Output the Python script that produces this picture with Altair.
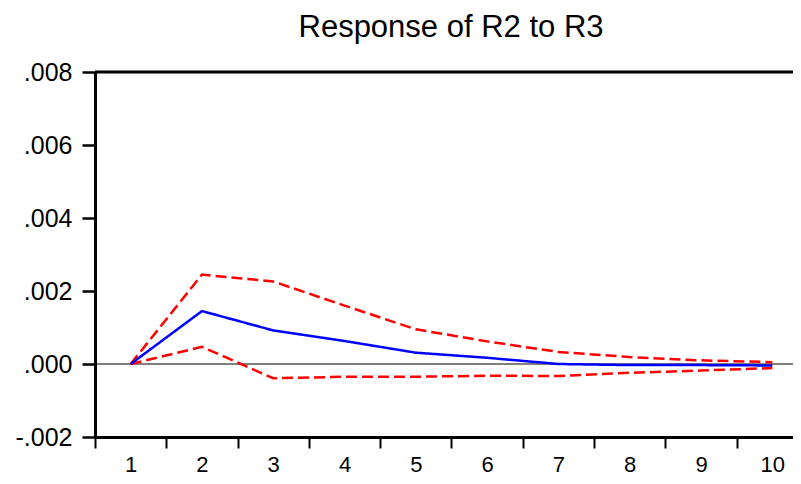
import altair as alt
import pandas as pd

periods = [1, 2, 3, 4, 5, 6, 7, 8, 9, 10]
response = [0.0, 0.00145, 0.00092, 0.00063, 0.00031, 0.00017, 0.0, -0.00003, -0.00003, -0.00004]
upper = [0.0, 0.00245, 0.00226, 0.00160, 0.00095, 0.00062, 0.00033, 0.00019, 0.00010, 0.00005]
lower = [0.0, 0.00047, -0.00039, -0.00035, -0.00035, -0.00032, -0.00033, -0.00024, -0.00018, -0.00011]
y_ticks = [-0.002, 0.0, 0.002, 0.004, 0.006, 0.008]
x_axis_values = [0.5, 1, 1.5, 2, 2.5, 3, 3.5, 4, 4.5, 5, 5.5, 6, 6.5, 7, 7.5, 8, 8.5, 9, 9.5, 10]
title_text = "Response of R2 to R3"

rows = []
for name, vals in [("upper", upper), ("lower", lower), ("response", response)]:
    for p, v in zip(periods, vals):
        rows.append({"period": p, "value": v, "series": name})
df = pd.DataFrame(rows)

FONT = "Liberation Sans"

x_enc = alt.X(
    "period:Q",
    scale=alt.Scale(domain=[0.5, 10.29], nice=False, zero=False),
    axis=alt.Axis(
        title=None, values=x_axis_values, labelAngle=0, tickSize=11, tickWidth=2,
        tickColor="black", domainColor="black", domainWidth=3,
        tickOpacity={"condition": {"test": "datum.value % 1 === 0", "value": 0}, "value": 1},
        labelExpr="datum.value % 1 === 0 ? format(datum.value, 'd') : ''",
        labelFlush=False, labelOverlap=False, labelBound=False,
        labelFontSize=22, labelFont=FONT, labelColor="black", labelPadding=6,
        grid=False,
    ),
)
y_scale = alt.Scale(domain=[-0.002, 0.008], nice=False, zero=False)
y_axis = alt.Axis(
    title=None, values=y_ticks, tickSize=13, tickWidth=2.5, tickColor="black",
    domainColor="black", domainWidth=3, labelFontSize=25, labelFont=FONT,
    labelColor="black", labelPadding=10, grid=False,
    labelExpr="(datum.value < 0 ? '-' : '') + replace(format(abs(datum.value), '.3f'), '0.', '.')",
)

zero = alt.Chart(pd.DataFrame({"v": [0.0]})).mark_rule(color="black", strokeWidth=1).encode(
    y=alt.Y("v:Q", scale=y_scale, axis=y_axis)
)
top = alt.Chart(pd.DataFrame({"v": [0.008]})).mark_rule(color="black", strokeWidth=3).encode(
    y=alt.Y("v:Q", scale=y_scale, axis=y_axis)
)

lines = alt.Chart(df).mark_line(strokeWidth=2.5).encode(
    x=x_enc,
    y=alt.Y("value:Q", scale=y_scale, axis=y_axis),
    color=alt.Color("series:N", scale=alt.Scale(domain=["response", "upper", "lower"],
                                               range=["#0000FF", "#FF0000", "#FF0000"]), legend=None),
    strokeDash=alt.StrokeDash("series:N", scale=alt.Scale(domain=["response", "upper", "lower"],
                                                         range=[[1, 0], [11, 5], [11, 5]]), legend=None),
    detail="series:N",
)

chart = alt.layer(zero, top, lines).properties(
    width=698,
    height=365,
    title=alt.TitleParams(title_text, fontSize=31, font=FONT, fontWeight="normal", color="black",
                          anchor="middle", offset=16, dx=7),
    autosize=alt.AutoSizeParams(type="none"),
    padding={"left": 87, "top": 64, "right": 0, "bottom": 39},
).configure_view(stroke=None).configure(background="white")

chart.save("out.html", embed_options={"renderer": "svg", "actions": False})
